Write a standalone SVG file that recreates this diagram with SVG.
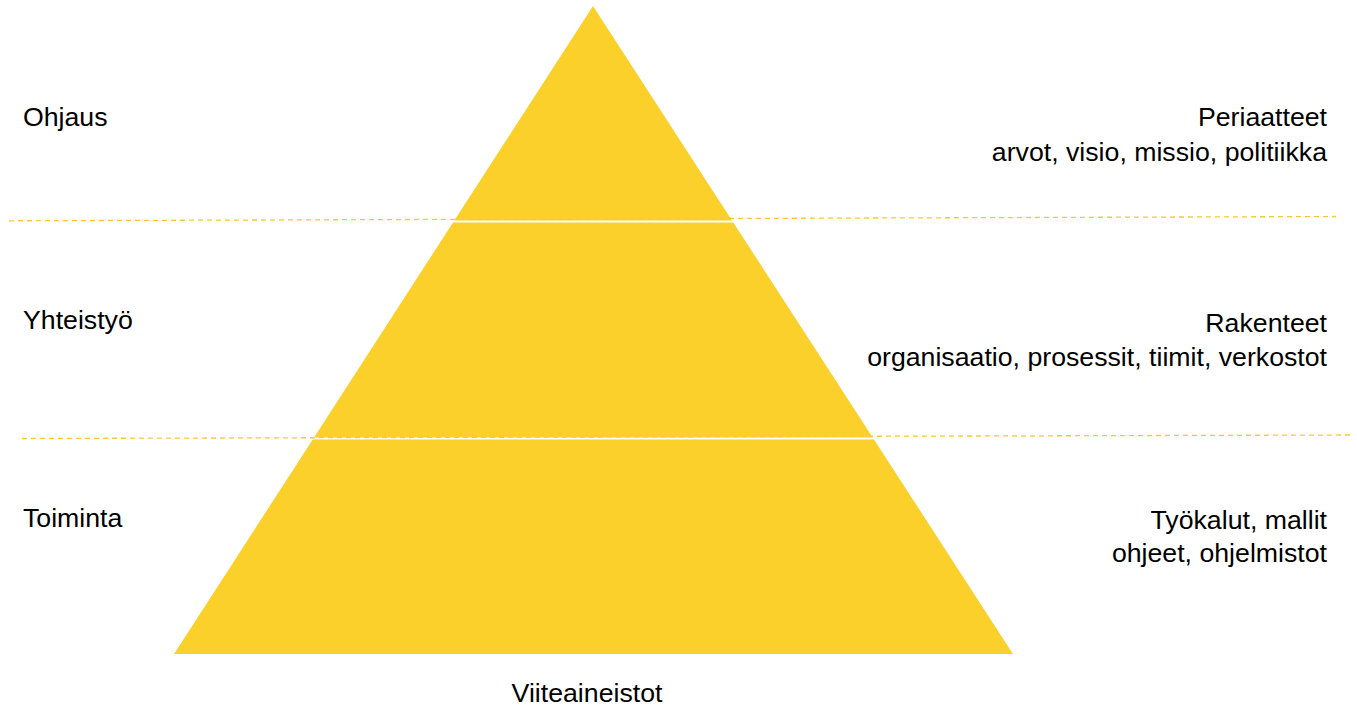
<svg xmlns="http://www.w3.org/2000/svg" width="1357" height="708" viewBox="0 0 1357 708">
  <style>
    .tier { fill: #FCD02B; }
    .divider { stroke: #F9C930; stroke-width: 1.3; stroke-dasharray: 5 4; fill: none; }
    .label { font-family: "Liberation Sans", Arial, sans-serif; font-size: 26.7px; fill: #000000; }
    .right { text-anchor: end; }
    .mid { text-anchor: middle; }
  </style>
  <rect width="1357" height="708" fill="#ffffff"/>

  <!-- pyramid tiers, separated by thin white gaps -->
  <g id="tier-ohjaus">
    <polygon class="tier" points="593,6 732,220.5 454.3,220.5"/>
  </g>
  <g id="tier-yhteistyo">
    <polygon class="tier" points="453,222.5 733.3,222.5 872.7,437.5 314,437.5"/>
  </g>
  <g id="tier-toiminta">
    <polygon class="tier" points="312.7,439.5 874,439.5 1013,654 174,654"/>
  </g>

  <!-- level dividers -->
  <g id="connectors">
    <line class="divider" x1="9" y1="220.8" x2="1336" y2="216.5"/>
    <line class="divider" x1="22" y1="438.5" x2="1350" y2="435"/>
  </g>

  <!-- left-side level names -->
  <g id="label-ohjaus"><text class="label" x="23" y="126">Ohjaus</text></g>
  <g id="label-yhteistyo"><text class="label" x="23" y="329">Yhteistyö</text></g>
  <g id="label-toiminta"><text class="label" x="23" y="527">Toiminta</text></g>

  <!-- right-side descriptions -->
  <g id="desc-periaatteet">
    <text class="label right" x="1327" y="126">Periaatteet</text>
    <text class="label right" x="1327" y="161">arvot, visio, missio, politiikka</text>
  </g>
  <g id="desc-rakenteet">
    <text class="label right" x="1327" y="332">Rakenteet</text>
    <text class="label right" x="1327" y="366">organisaatio, prosessit, tiimit, verkostot</text>
  </g>
  <g id="desc-tyokalut">
    <text class="label right" x="1327" y="529">Työkalut, mallit</text>
    <text class="label right" x="1327" y="562">ohjeet, ohjelmistot</text>
  </g>

  <!-- base label -->
  <g id="label-viiteaineistot"><text class="label mid" x="587" y="702">Viiteaineistot</text></g>
</svg>
